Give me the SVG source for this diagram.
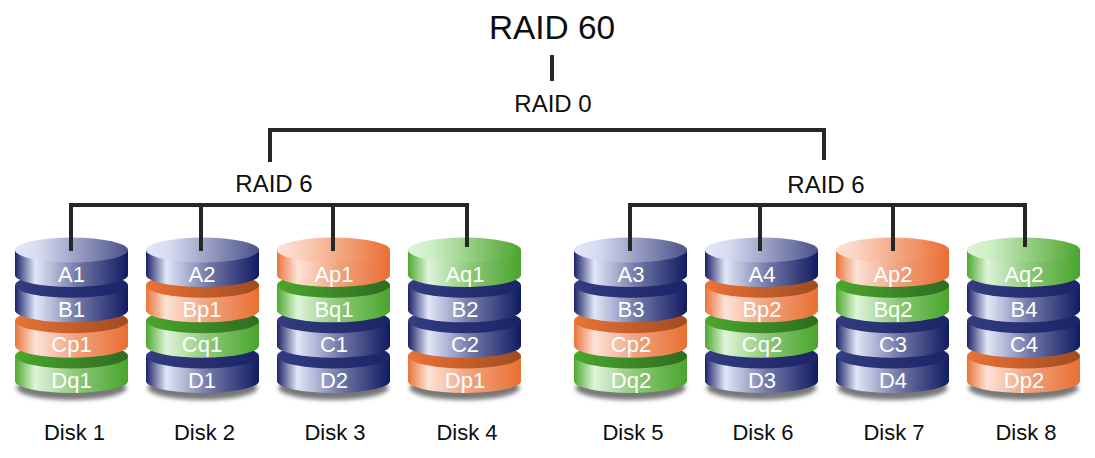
<svg xmlns="http://www.w3.org/2000/svg" width="1095" height="458" viewBox="0 0 1095 458">
<style>
text{font-family:"Liberation Sans",Arial,sans-serif;text-anchor:middle;fill:#0d0d0d}
.t{font-size:24px}
.d{font-size:22px}
.l{font-size:22px;fill:#fff}
.c{fill:none;stroke:#262626;stroke-width:4;stroke-linecap:butt;stroke-linejoin:miter}
</style>
<defs>
<linearGradient id="sb"><stop offset="0" stop-color="#1a2266"/><stop offset=".18" stop-color="#e2e6f8"/><stop offset=".55" stop-color="#737aa8"/><stop offset="1" stop-color="#111b62"/></linearGradient>
<linearGradient id="so"><stop offset="0" stop-color="#e9743a"/><stop offset=".18" stop-color="#fde2d6"/><stop offset=".55" stop-color="#f0a27c"/><stop offset="1" stop-color="#e96f33"/></linearGradient>
<linearGradient id="sg"><stop offset="0" stop-color="#4ea82f"/><stop offset=".18" stop-color="#def4d8"/><stop offset=".55" stop-color="#8cc878"/><stop offset="1" stop-color="#49a52c"/></linearGradient>
<linearGradient id="tb"><stop offset="0" stop-color="#e2e6f8"/><stop offset=".2" stop-color="#d8dcf2"/><stop offset="1" stop-color="#4a5288"/></linearGradient>
<linearGradient id="to"><stop offset="0" stop-color="#fde2d6"/><stop offset=".2" stop-color="#fad2bf"/><stop offset="1" stop-color="#e96f33"/></linearGradient>
<linearGradient id="tg"><stop offset="0" stop-color="#def4d8"/><stop offset=".2" stop-color="#cfeec6"/><stop offset="1" stop-color="#4ba52e"/></linearGradient>
<linearGradient id="ib"><stop offset="0" stop-color="#343c80"/><stop offset="1" stop-color="#1c2468"/></linearGradient>
<linearGradient id="io"><stop offset="0" stop-color="#ea7336"/><stop offset="1" stop-color="#a04b20"/></linearGradient>
<linearGradient id="ig"><stop offset="0" stop-color="#4ba72c"/><stop offset="1" stop-color="#2f6b20"/></linearGradient>
<filter id="blur" x="-10%" y="-30%" width="120%" height="160%"><feGaussianBlur stdDeviation="2"/></filter>
<path id="side" d="M0 0V25A56.5 12 0 0 0 113 25V0Z"/>
<ellipse id="cap" cx="56.5" cy="0" rx="56.5" ry="12.5"/>
<ellipse id="shadow" cx="56.5" cy="32" rx="55" ry="12" fill="#777" filter="url(#blur)"/>
</defs>
<text x="552" y="39" style="font-size:33.4px">RAID 60</text>
<text class="t" x="553" y="112">RAID 0</text>
<text class="t" x="274" y="192">RAID 6</text>
<text class="t" x="826" y="193">RAID 6</text>
<g id="disk1"><g transform="translate(15,0)">
<use href="#shadow" y="356"/>
<use href="#side" fill="url(#sg)" y="356"/><use href="#cap" fill="url(#ig)" y="356"/>
<use href="#side" fill="url(#so)" y="320.7"/><use href="#cap" fill="url(#io)" y="320.7"/>
<use href="#side" fill="url(#sb)" y="285.3"/><use href="#cap" fill="url(#ib)" y="285.3"/>
<use href="#side" fill="url(#sb)" y="250"/><use href="#cap" fill="url(#tb)" y="250"/>
</g><text class="l" x="71.5" y="282">A1</text><text class="l" x="71.5" y="317">B1</text><text class="l" x="71.5" y="352">Cp1</text><text class="l" x="71.5" y="388">Dq1</text><text class="d" x="74.5" y="440">Disk 1</text></g>
<g id="disk2"><g transform="translate(146,0)">
<use href="#shadow" y="356"/>
<use href="#side" fill="url(#sb)" y="356"/><use href="#cap" fill="url(#ib)" y="356"/>
<use href="#side" fill="url(#sg)" y="320.7"/><use href="#cap" fill="url(#ig)" y="320.7"/>
<use href="#side" fill="url(#so)" y="285.3"/><use href="#cap" fill="url(#io)" y="285.3"/>
<use href="#side" fill="url(#sb)" y="250"/><use href="#cap" fill="url(#tb)" y="250"/>
</g><text class="l" x="202" y="282">A2</text><text class="l" x="202" y="317">Bp1</text><text class="l" x="202" y="352">Cq1</text><text class="l" x="202" y="388">D1</text><text class="d" x="204.5" y="440">Disk 2</text></g>
<g id="disk3"><g transform="translate(277,0)">
<use href="#shadow" y="356"/>
<use href="#side" fill="url(#sb)" y="356"/><use href="#cap" fill="url(#ib)" y="356"/>
<use href="#side" fill="url(#sb)" y="320.7"/><use href="#cap" fill="url(#ib)" y="320.7"/>
<use href="#side" fill="url(#sg)" y="285.3"/><use href="#cap" fill="url(#ig)" y="285.3"/>
<use href="#side" fill="url(#so)" y="250"/><use href="#cap" fill="url(#to)" y="250"/>
</g><text class="l" x="334" y="282">Ap1</text><text class="l" x="334" y="317">Bq1</text><text class="l" x="334" y="352">C1</text><text class="l" x="334" y="388">D2</text><text class="d" x="335" y="440">Disk 3</text></g>
<g id="disk4"><g transform="translate(408,0)">
<use href="#shadow" y="356"/>
<use href="#side" fill="url(#so)" y="356"/><use href="#cap" fill="url(#io)" y="356"/>
<use href="#side" fill="url(#sb)" y="320.7"/><use href="#cap" fill="url(#ib)" y="320.7"/>
<use href="#side" fill="url(#sb)" y="285.3"/><use href="#cap" fill="url(#ib)" y="285.3"/>
<use href="#side" fill="url(#sg)" y="250"/><use href="#cap" fill="url(#tg)" y="250"/>
</g><text class="l" x="465" y="282">Aq1</text><text class="l" x="465" y="317">B2</text><text class="l" x="465" y="352">C2</text><text class="l" x="465" y="388">Dp1</text><text class="d" x="467" y="440">Disk 4</text></g>
<g id="disk5"><g transform="translate(574,0)">
<use href="#shadow" y="356"/>
<use href="#side" fill="url(#sg)" y="356"/><use href="#cap" fill="url(#ig)" y="356"/>
<use href="#side" fill="url(#so)" y="320.7"/><use href="#cap" fill="url(#io)" y="320.7"/>
<use href="#side" fill="url(#sb)" y="285.3"/><use href="#cap" fill="url(#ib)" y="285.3"/>
<use href="#side" fill="url(#sb)" y="250"/><use href="#cap" fill="url(#tb)" y="250"/>
</g><text class="l" x="631" y="282">A3</text><text class="l" x="631" y="317">B3</text><text class="l" x="631" y="352">Cp2</text><text class="l" x="631" y="388">Dq2</text><text class="d" x="633" y="440">Disk 5</text></g>
<g id="disk6"><g transform="translate(705,0)">
<use href="#shadow" y="356"/>
<use href="#side" fill="url(#sb)" y="356"/><use href="#cap" fill="url(#ib)" y="356"/>
<use href="#side" fill="url(#sg)" y="320.7"/><use href="#cap" fill="url(#ig)" y="320.7"/>
<use href="#side" fill="url(#so)" y="285.3"/><use href="#cap" fill="url(#io)" y="285.3"/>
<use href="#side" fill="url(#sb)" y="250"/><use href="#cap" fill="url(#tb)" y="250"/>
</g><text class="l" x="762" y="282">A4</text><text class="l" x="762" y="317">Bp2</text><text class="l" x="762" y="352">Cq2</text><text class="l" x="762" y="388">D3</text><text class="d" x="763" y="440">Disk 6</text></g>
<g id="disk7"><g transform="translate(836,0)">
<use href="#shadow" y="356"/>
<use href="#side" fill="url(#sb)" y="356"/><use href="#cap" fill="url(#ib)" y="356"/>
<use href="#side" fill="url(#sb)" y="320.7"/><use href="#cap" fill="url(#ib)" y="320.7"/>
<use href="#side" fill="url(#sg)" y="285.3"/><use href="#cap" fill="url(#ig)" y="285.3"/>
<use href="#side" fill="url(#so)" y="250"/><use href="#cap" fill="url(#to)" y="250"/>
</g><text class="l" x="893" y="282">Ap2</text><text class="l" x="893" y="317">Bq2</text><text class="l" x="893" y="352">C3</text><text class="l" x="893" y="388">D4</text><text class="d" x="894" y="440">Disk 7</text></g>
<g id="disk8"><g transform="translate(967,0)">
<use href="#shadow" y="356"/>
<use href="#side" fill="url(#so)" y="356"/><use href="#cap" fill="url(#io)" y="356"/>
<use href="#side" fill="url(#sb)" y="320.7"/><use href="#cap" fill="url(#ib)" y="320.7"/>
<use href="#side" fill="url(#sb)" y="285.3"/><use href="#cap" fill="url(#ib)" y="285.3"/>
<use href="#side" fill="url(#sg)" y="250"/><use href="#cap" fill="url(#tg)" y="250"/>
</g><text class="l" x="1024" y="282">Aq2</text><text class="l" x="1024" y="317">B4</text><text class="l" x="1024" y="352">C4</text><text class="l" x="1024" y="388">Dp2</text><text class="d" x="1026" y="440">Disk 8</text></g>
<g id="connectors">
<path class="c" d="M552 55V81"/>
<path class="c" d="M270 162V130H824V160"/>
<path class="c" d="M71 251V205H467V247M201 205V251M333 205V251"/>
<path class="c" d="M630 251V205H1025V247M760 205V251M893 205V251"/>
</g>
</svg>
